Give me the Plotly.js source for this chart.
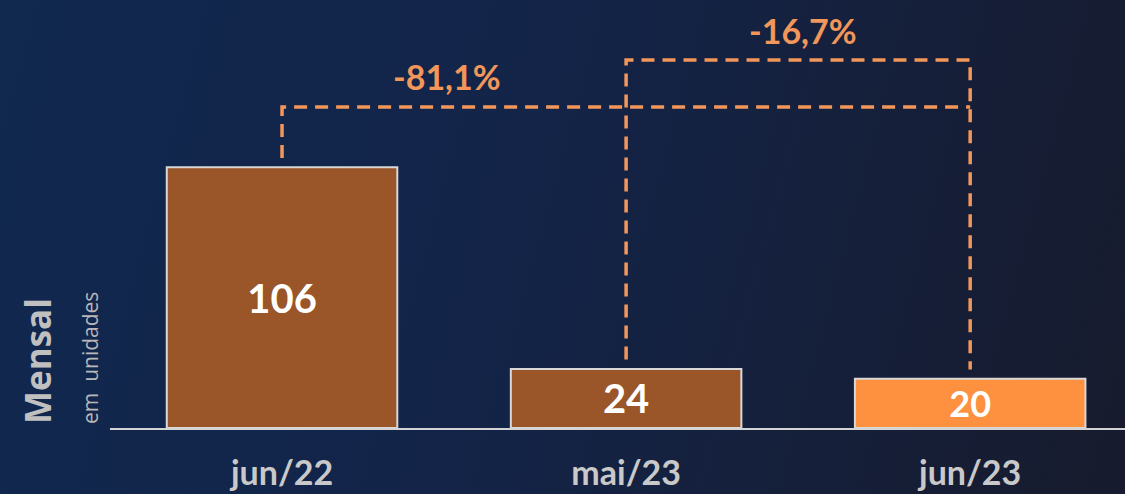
<!DOCTYPE html>
<html>
<head>
<meta charset="utf-8">
<script src="https://cdn.plot.ly/plotly-3.0.1.min.js"></script>
<style>
  html, body { margin: 0; padding: 0; }
  body {
    width: 1125px; height: 494px; overflow: hidden;
    background: linear-gradient(105deg, #11284f 0%, #132448 45%, #171b2d 100%);
  }
  #chart { width: 1125px; height: 494px; }
</style>
</head>
<body>
<div id="chart"></div>
<script>
// valores mensais (unidades)
var periods = ['jun/22', 'mai/23', 'jun/23'];
var values = [106, 24, 20];
var barColors = ['#9a5528', '#9a5528', '#fd913f'];

var orange = '#f2965a';
var gray = '#c9c9c9';

function pct(from, to) {
    return ((to - from) / from * 100).toFixed(1).replace('.', ',') + '%';
}

var bars = {
    x: periods,
    y: values,
    type: 'bar',
    width: 0.67,
    marker: { color: barColors, line: { color: '#d8d8d8', width: 2 } },
    text: values.map(String),
    textposition: 'inside',
    textangle: 0,
    insidetextanchor: 'middle',
    textfont: { family: 'Lato', size: 40, color: '#ffffff', weight: 'bold' },
    hoverinfo: 'skip'
};

// colchetes tracejados entre os periodos
var lowLevel = 130.5, highLevel = 149.6, gap = 3.8;
var dashStyle = { color: orange, width: 3.5, dash: '13px,8px' };

var bracketYear = {
    x: [periods[0], periods[0], periods[2]],
    y: [values[0] + gap, lowLevel, lowLevel],
    type: 'scatter', mode: 'lines', line: dashStyle, hoverinfo: 'skip'
};
var bracketMonth = {
    x: [periods[1], periods[1], periods[2], periods[2]],
    y: [values[1] + gap, highLevel, highLevel, values[2] + gap],
    type: 'scatter', mode: 'lines', line: dashStyle, hoverinfo: 'skip'
};

var layout = {
    width: 1125,
    height: 494,
    margin: { l: 110, r: 0, t: 0, b: 66 },
    paper_bgcolor: 'rgba(0,0,0,0)',
    plot_bgcolor: 'rgba(0,0,0,0)',
    showlegend: false,
    xaxis: {
        type: 'category',
        range: [-0.5, 2.45],
        showline: true, linecolor: '#d4d4d4', linewidth: 2,
        showgrid: false, zeroline: false,
        ticks: 'outside', ticklen: 14, tickcolor: 'rgba(0,0,0,0)',
        tickfont: { family: 'Lato', size: 34, color: gray, weight: 'bold' }
    },
    yaxis: {
        range: [0, 174],
        visible: false
    },
    annotations: [
        {
            x: 0.48, y: 142.7, xref: 'x', yref: 'y',
            text: pct(values[0], values[2]), showarrow: false,
            font: { family: 'Lato', size: 34, color: orange, weight: 'bold' }
        },
        {
            x: 1.515, y: 161.8, xref: 'x', yref: 'y',
            text: pct(values[1], values[2]), showarrow: false,
            font: { family: 'Lato', size: 34, color: orange, weight: 'bold' }
        },
        {
            x: 0, y: 0, xref: 'paper', yref: 'paper',
            xanchor: 'center', yanchor: 'bottom', xshift: -73, yshift: 2,
            text: '<b>Mensal</b>', textangle: -90, showarrow: false,
            font: { family: 'Open Sans', size: 35, color: '#c0c0c0' }
        },
        {
            x: 0, y: 0, xref: 'paper', yref: 'paper',
            xanchor: 'center', yanchor: 'bottom', xshift: -20, yshift: 2,
            text: 'em  unidades', textangle: -90, showarrow: false,
            font: { family: 'Open Sans', size: 21, color: '#b8b8b8' }
        }
    ]
};

Plotly.newPlot('chart', [bars, bracketYear, bracketMonth], layout, { displayModeBar: false, staticPlot: true });
</script>
</body>
</html>
